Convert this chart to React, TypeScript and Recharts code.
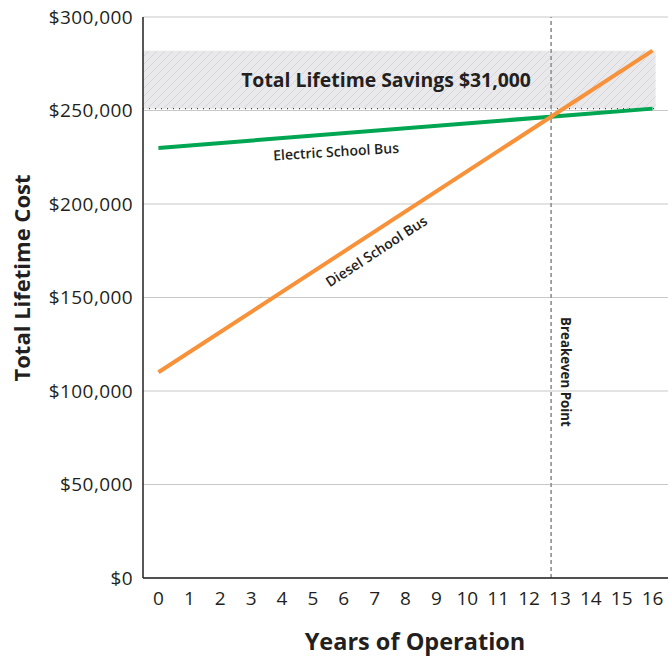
import { CartesianGrid, Line, LineChart, ReferenceArea, ReferenceDot, ReferenceLine, XAxis, YAxis } from "recharts";

const years = [0, 16];
const electric = [230000, 251000];
const diesel = [110000, 282000];
const xTicks = [0, 1, 2, 3, 4, 5, 6, 7, 8, 9, 10, 11, 12, 13, 14, 15, 16];
const yTicks = [0, 50000, 100000, 150000, 200000, 250000, 300000];

const data = years.map((y, i) => ({ year: y, electric: electric[i], diesel: diesel[i] }));

// where the two straight lines cross
const eSlope = (electric[1] - electric[0]) / (years[1] - years[0]);
const dSlope = (diesel[1] - diesel[0]) / (years[1] - years[0]);
const breakeven = (electric[0] - diesel[0]) / (dSlope - eSlope);

const FONT = "'Open Sans', 'Noto Sans', sans-serif";
const INK = "#231f20";

const money = (v: number) => "$" + v.toLocaleString("en-US");

function rot(p: any, text: string, angle: number, size: number, weight = 600) {
  const { x, y } = p.viewBox;
  return (
    <text x={x} y={y} transform={`rotate(${angle} ${x} ${y})`} textAnchor="middle" dominantBaseline="central"
      fontFamily={FONT} fontSize={size} fontWeight={weight} fill={INK}>
      {text}
    </text>
  );
}

export default function App() {
  return (
    <div style={{ position: "absolute", left: 0, top: 0 }}>
      <LineChart width={668} height={658} data={data} margin={{ top: 17, right: 0, bottom: 0, left: 0 }}>
        <defs>
          <pattern id="hatch" patternUnits="userSpaceOnUse" width="8" height="8">
            <rect width="8" height="8" fill="#e9e9ec" />
            <path d="M-2,2 l4,-4 M0,8 l8,-8 M6,10 l4,-4" stroke="#d4d4d9" strokeWidth="0.9" />
          </pattern>
        </defs>
        <CartesianGrid vertical={false} stroke="#c8c8c8" strokeWidth={1.2} />
        <XAxis dataKey="year" type="number" domain={[-0.5, 16.5]} allowDataOverflow ticks={xTicks} interval={0}
          height={80} tickLine={false} tickSize={0} tickMargin={14} axisLine={{ stroke: INK, strokeWidth: 1.5 }}
          tick={{ fill: INK, fontSize: 19, fontFamily: FONT }}
          label={{ content: (p: any) => (
            <text x={415} y={650} textAnchor="middle" fontFamily={FONT}
              fontSize={23.5} fontWeight={700} fill={INK}>Years of Operation</text>
          ) }} />
        <YAxis type="number" domain={[0, 300000]} ticks={yTicks} width={143} tickLine={false} tickSize={0}
          tickMargin={10} tickFormatter={money} axisLine={{ stroke: INK, strokeWidth: 1.5 }}
          tick={{ fill: INK, fontSize: 19, fontFamily: FONT, letterSpacing: 0.4 }}
          label={{ content: (p: any) => (
            <text x={30} y={278} transform="rotate(-90 30 278)" textAnchor="middle" fontFamily={FONT}
              fontSize={22} fontWeight={700} fill={INK}>Total Lifetime Cost</text>
          ) }} />
        <ReferenceArea x1={-0.5} x2={16.1} y1={electric[1]} y2={diesel[1]} fill="url(#hatch)" fillOpacity={1} stroke="none" />
        <ReferenceLine segment={[{ x: -0.5, y: electric[1] }, { x: 16.1, y: electric[1] }]} stroke="#444" strokeWidth={1.2} strokeDasharray="1 5" />
        <ReferenceLine x={breakeven} stroke="#9a9a9a" strokeWidth={1.8} strokeDasharray="4 3" />
        <Line dataKey="electric" stroke="#00a651" strokeWidth={4} dot={false} isAnimationActive={false} />
        <Line dataKey="diesel" stroke="#f7923a" strokeWidth={4} dot={false} isAnimationActive={false} />
        <ReferenceDot x={7.37} y={266800} r={0} fill="none" stroke="none"
          label={{ content: (p: any) => rot(p, "Total Lifetime Savings $31,000", 0, 19.4, 700) }} />
        <ReferenceDot x={5.75} y={228300} r={0} fill="none" stroke="none"
          label={{ content: (p: any) => rot(p, "Electric School Bus", -3.5, 14) }} />
        <ReferenceDot x={7.05} y={174900} r={0} fill="none" stroke="none"
          label={{ content: (p: any) => rot(p, "Diesel School Bus", -33, 14) }} />
        <ReferenceDot x={13.2} y={110200} r={0} fill="none" stroke="none"
          label={{ content: (p: any) => rot(p, "Breakeven Point", 90, 13.3, 700) }} />
      </LineChart>
    </div>
  );
}
